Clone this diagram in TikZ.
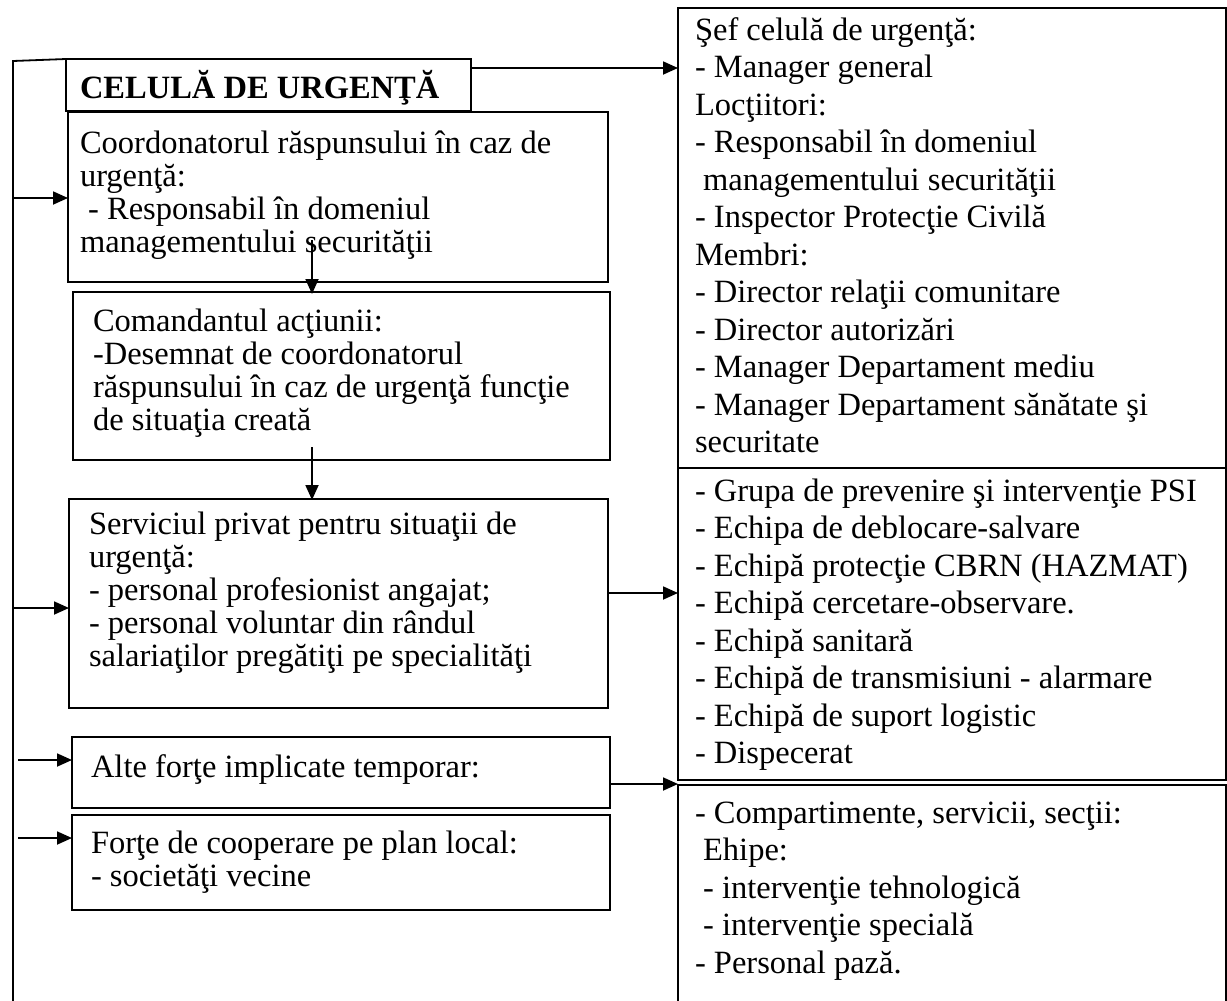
\documentclass[tikz,border=0pt]{standalone}
\usepackage{fontspec}
\setmainfont{Liberation Serif}
\newfontfamily\boxfont{Liberation Serif}
\usetikzlibrary{arrows.meta}

% text blocks: first line's baseline is the node's base
\newcommand\lefttext[1]{\parbox[t]{600bp}{\boxfont\fontsize{32.5bp}{33bp}\selectfont #1}}
\newcommand\righttext[1]{\parbox[t]{600bp}{\boxfont\fontsize{32.5bp}{37.5bp}\selectfont #1}}
\newcommand\leadsp{\hspace*{0.25em}}

\begin{document}
\begin{tikzpicture}[x=1bp, y=-1bp,
  frame/.style={draw, line width=1.8bp, inner sep=0pt, outer sep=0pt, anchor=north west},
  txt/.style={inner sep=0pt, outer sep=0pt, anchor=base west},
  wire/.style={line width=1.8bp},
  conn/.style={line width=1.8bp, -{Triangle[length=15bp,width=13bp]}}]

\useasboundingbox[fill=white] (0,0) rectangle (1227,1001);

% left column boxes
\node[frame, minimum width=405bp, minimum height=52bp]  (title) at (66,59)  {};
\node[frame, minimum width=540bp, minimum height=170bp] (coord) at (68,112) {};
\node[frame, minimum width=537bp, minimum height=168bp] (cmd)   at (73,292) {};
\node[frame, minimum width=539bp, minimum height=209bp] (svc)   at (69,499) {};
\node[frame, minimum width=538bp, minimum height=71bp]  (alte)  at (72,737) {};
\node[frame, minimum width=538bp, minimum height=95bp]  (coop)  at (72,815) {};

% right column boxes
\node[frame, minimum width=548bp, minimum height=460bp] (r1) at (678,8)   {};
\node[frame, minimum width=548bp, minimum height=312bp] (r2) at (678,468) {};
\node[frame, draw=none, minimum width=548bp, minimum height=216bp] (r3) at (678,785) {};
\draw[line width=1.8bp] (r3.south west) -- (r3.north west) -- (r3.north east) -- (r3.south east);

% texts
\node[txt] (titletxt) at (80,98) {\parbox[t]{600bp}{\boxfont\bfseries\fontsize{32.5bp}{33bp}\selectfont CELULĂ DE URGENŢĂ}};
\node[txt] (coordtxt) at (80,153) {\lefttext{Coordonatorul răspunsului în caz de\\
urgenţă:\\
\leadsp- Responsabil în domeniul\\
managementului securităţii}};
\node[txt] (cmdtxt) at (93,331) {\lefttext{Comandantul acţiunii:\\
-Desemnat de coordonatorul\\
răspunsului în caz de urgenţă funcţie\\
de situaţia creată}};
\node[txt] (svctxt) at (89,534) {\lefttext{Serviciul privat pentru situaţii de\\
urgenţă:\\
- personal profesionist angajat;\\
- personal voluntar din rândul\\
salariaţilor pregătiţi pe specialităţi}};
\node[txt] (altetxt) at (91,777) {\lefttext{Alte forţe implicate temporar:}};
\node[txt] (cooptxt) at (91,853) {\lefttext{Forţe de cooperare pe plan local:\\
- societăţi vecine}};

\node[txt] (r1txt) at (695,40) {\righttext{Şef celulă de urgenţă:\\
- Manager general\\
Locţiitori:\\
- Responsabil în domeniul\\
\leadsp managementului securităţii\\
- Inspector Protecţie Civilă\\
Membri:\\
- Director relaţii comunitare\\
- Director autorizări\\
- Manager Departament mediu\\
- Manager Departament sănătate şi\\
securitate}};
\node[txt] (r2txt) at (695,501) {\righttext{- Grupa de prevenire şi intervenţie PSI\\
- Echipa de deblocare-salvare\\
- Echipă protecţie CBRN (HAZMAT)\\
- Echipă cercetare-observare.\\
- Echipă sanitară\\
- Echipă de transmisiuni - alarmare\\
- Echipă de suport logistic\\
- Dispecerat}};
\node[txt] (r3txt) at (695,823) {\righttext{- Compartimente, servicii, secţii:\\
\leadsp Ehipe:\\
\leadsp - intervenţie tehnologică\\
\leadsp - intervenţie specială\\
- Personal pază.}};

% left spine
\coordinate (spTop) at (13,61);
\coordinate (spBot) at (13,1001);
\draw[wire] (spBot) -- (spTop) -- (title.north west);

% arrows from the spine
\coordinate (a1) at (13,198);
\coordinate (a2) at (13,608);
\coordinate (a3) at (18,760);
\coordinate (a4) at (18,838);
\draw[conn] (a1) -- (coord.west |- a1);
\draw[conn] (a2) -- (svc.west |- a2);
\draw[conn] (a3) -- (alte.west |- a3);
\draw[conn] (a4) -- (coop.west |- a4);

% vertical chain (the stems start inside the upper boxes)
\coordinate (vx) at (312,0);
\coordinate (d1) at (312,240);
\coordinate (d2) at (312,447);
\draw[conn] (d1) -- ([yshift=-2bp]vx |- cmd.north);
\draw[conn] (d2) -- ([yshift=-1bp]vx |- svc.north);

% arrows to the right column
\coordinate (h1) at (0,68);
\coordinate (h2) at (0,593);
\coordinate (h3) at (0,784);
\draw[conn] (title.east |- h1) -- (r1.west |- h1);
\draw[conn] (svc.east |- h2) -- (r2.west |- h2);
\draw[conn] (alte.east |- h3) -- (r3.west |- h3);

\end{tikzpicture}
\end{document}
